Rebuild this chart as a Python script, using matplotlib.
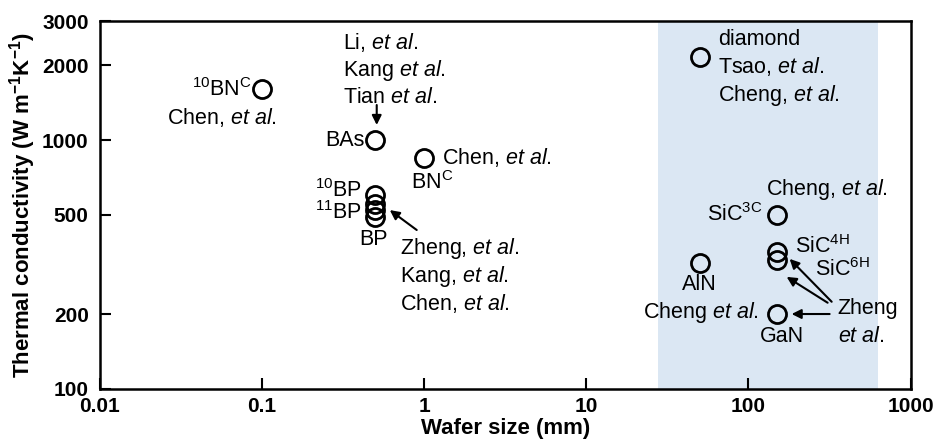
import matplotlib
matplotlib.use('Agg')
import matplotlib.pyplot as plt

# шрифты: Arial-подобный Liberation Sans, mathtext тоже через него
plt.rcParams['font.family'] = 'Liberation Sans'
plt.rcParams['mathtext.fontset'] = 'custom'
plt.rcParams['mathtext.rm'] = 'Liberation Sans'
plt.rcParams['mathtext.it'] = 'Liberation Sans:italic'
plt.rcParams['mathtext.bf'] = 'Liberation Sans:bold'

# данные: размер пластины (мм) и теплопроводность (Вт/м/К)
materials = ['10BNC', 'BAs', 'BNC', '10BP', '11BP', 'BP-2', 'BP',
             'diamond', 'SiC3C', 'SiC4H', 'SiC6H', 'AlN', 'GaN']
wafer_size = [0.1, 0.5, 1, 0.5, 0.5, 0.5, 0.5, 50, 150, 150, 150, 50, 150]
conductivity = [1600, 1000, 850, 600, 555, 525, 490, 2150, 500, 355, 330, 320, 200]

# область коммерческих пластин
wafer_band = (27.5, 630)

x_ticks = [0.01, 0.1, 1, 10, 100, 1000]
x_labels = ['0.01', '0.1', '1', '10', '100', '1000']
y_ticks = [100, 200, 500, 1000, 2000, 3000]
y_labels = ['100', '200', '500', '1000', '2000', '3000']

ET = r'$\mathit{et\ al.}$'

fig = plt.figure(figsize=(9.33, 4.42), dpi=100)
ax = fig.add_axes([0.107, 0.12, 0.869, 0.832])

ax.axvspan(*wafer_band, color='#dbe7f3', lw=0, zorder=0)
ax.plot(wafer_size, conductivity, 'o', mfc='none', mec='black', ms=13, mew=2, zorder=3)

ax.set_xscale('log')
ax.set_yscale('log')
ax.set_xlim(0.01, 1000)
ax.set_ylim(100, 3000)
ax.set_xticks(x_ticks)
ax.set_xticklabels(x_labels)
ax.set_yticks(y_ticks)
ax.set_yticklabels(y_labels)
ax.minorticks_off()
ax.tick_params(direction='in', length=8, width=1.5, labelsize=15)
ax.tick_params(axis='x', pad=6)
ax.tick_params(axis='y', pad=8)
for lab in ax.get_xticklabels() + ax.get_yticklabels():
    lab.set_fontweight('bold')
for s in ax.spines.values():
    s.set_linewidth(1.8)

ax.set_xlabel('Wafer size (mm)', fontsize=16, fontweight='bold', labelpad=1)
ax.set_ylabel(r'Thermal conductivity (W m$^{\mathbf{-1}}$K$^{\mathbf{-1}}$)',
              fontsize=16, fontweight='bold', labelpad=3)

fs = 15.5
# подписи слева
ax.text(0.0865, 1588, r'$^{10}$BN$^{\mathrm{C}}$', fontsize=fs, ha='right', va='center')
ax.text(0.0565, 1237, 'Chen, ' + ET, fontsize=fs, ha='center', va='center')

ax.text(0.315, 2453, 'Li, ' + ET, fontsize=fs, ha='left', va='center')
ax.text(0.315, 1910, 'Kang ' + ET, fontsize=fs, ha='left', va='center')
ax.text(0.315, 1475, 'Tian ' + ET, fontsize=fs, ha='left', va='center')
ax.text(0.430, 1000, 'BAs', fontsize=fs, ha='right', va='center')

ax.text(1.284, 854, 'Chen, ' + ET, fontsize=fs, ha='left', va='center')
ax.text(1.114, 672, r'BN$^{\mathrm{C}}$', fontsize=fs, ha='center', va='center')

ax.text(0.412, 625, r'$^{10}$BP', fontsize=fs, ha='right', va='center')
ax.text(0.412, 510, r'$^{11}$BP', fontsize=fs, ha='right', va='center')
ax.text(0.49, 400, 'BP', fontsize=fs, ha='center', va='center')
ax.text(0.707, 368, 'Zheng, ' + ET, fontsize=fs, ha='left', va='center')
ax.text(0.707, 282, 'Kang, ' + ET, fontsize=fs, ha='left', va='center')
ax.text(0.707, 221, 'Chen, ' + ET, fontsize=fs, ha='left', va='center')

# подписи справа
ax.text(64.6, 2544, 'diamond', fontsize=fs, ha='left', va='center')
ax.text(64.6, 1965, 'Tsao, ' + ET, fontsize=fs, ha='left', va='center')
ax.text(64.6, 1516, 'Cheng, ' + ET, fontsize=fs, ha='left', va='center')

ax.text(127.6, 630, 'Cheng, ' + ET, fontsize=fs, ha='left', va='center')
ax.text(122.4, 500, r'SiC$^{\mathrm{3C}}$', fontsize=fs, ha='right', va='center')
ax.text(192.7, 372, r'SiC$^{\mathrm{4H}}$', fontsize=fs, ha='left', va='center')
ax.text(256, 302, r'SiC$^{\mathrm{6H}}$', fontsize=fs, ha='left', va='center')
ax.text(50, 262, 'AlN', fontsize=fs, ha='center', va='center')
ax.text(115.6, 202, 'Cheng ' + ET, fontsize=fs, ha='right', va='center')
ax.text(160, 162, 'GaN', fontsize=fs, ha='center', va='center')
ax.text(354.8, 211, 'Zheng', fontsize=fs, ha='left', va='center')
ax.text(354.8, 162, ET, fontsize=fs, ha='left', va='center')

# стрелки
arrow = dict(arrowstyle='-|>', color='black', lw=1.5, mutation_scale=14,
             shrinkA=0, shrinkB=0)
ax.annotate('', xy=(0.51, 1149), xytext=(0.51, 1382), arrowprops=arrow)
ax.annotate('', xy=(0.614, 523), xytext=(0.90, 435), arrowprops=arrow)
ax.annotate('', xy=(179.5, 333), xytext=(326, 224), arrowprops=arrow)
ax.annotate('', xy=(172, 282), xytext=(307.8, 222), arrowprops=arrow)
ax.annotate('', xy=(184.6, 200), xytext=(316.7, 200), arrowprops=arrow)

fig.savefig('out.png', dpi=100)
